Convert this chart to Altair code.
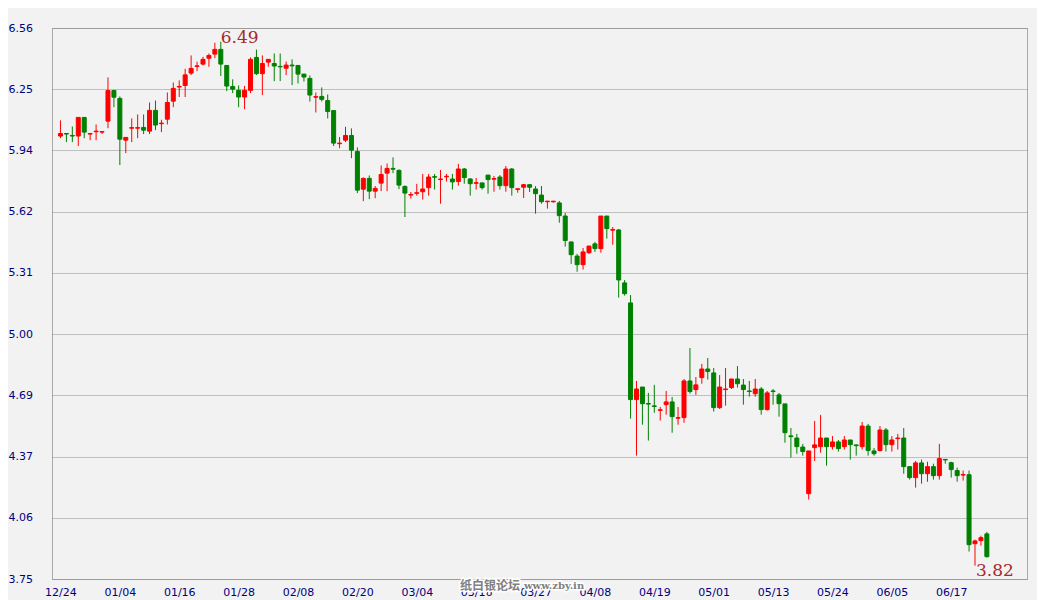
import altair as alt
import pandas as pd

# ---- data ----
date_labels = ["12/24", "01/04", "01/16", "01/28", "02/08", "02/20", "03/04", "03/16",
               "03/27", "04/08", "04/19", "05/01", "05/13", "05/24", "06/05", "06/17"]

opens = [6.009, 6.022, 6.012, 6.009, 6.104, 6.019, 6.031, 6.029, 6.085, 6.241,
         6.201, 5.988, 6.049, 6.049, 6.053, 6.034, 6.140, 6.072, 6.095, 6.187,
         6.259, 6.267, 6.330, 6.364, 6.376, 6.406, 6.427, 6.451, 6.369, 6.262,
         6.242, 6.208, 6.242, 6.410, 6.327, 6.386, 6.379, 6.364, 6.355, 6.371,
         6.369, 6.325, 6.303, 6.207, 6.211, 6.190, 6.139, 5.970, 5.988, 6.012,
         5.930, 5.738, 5.793, 5.728, 5.769, 5.820, 5.844, 5.834, 5.752, 5.708,
         5.717, 5.725, 5.746, 5.802, 5.787, 5.801, 5.790, 5.777, 5.841, 5.790,
         5.768, 5.770, 5.810, 5.789, 5.800, 5.756, 5.841, 5.737, 5.748, 5.761,
         5.739, 5.708, 5.674, 5.674, 5.668, 5.601, 5.469, 5.397, 5.353, 5.414,
         5.459, 5.435, 5.601, 5.529, 5.530, 5.260, 5.158, 4.665, 4.729, 4.645,
         4.633, 4.610, 4.639, 4.653, 4.570, 4.573, 4.760, 4.716, 4.777, 4.821,
         4.801, 4.624, 4.716, 4.726, 4.770, 4.739, 4.709, 4.695, 4.719, 4.614,
         4.709, 4.689, 4.643, 4.480, 4.469, 4.423, 4.185, 4.420, 4.425, 4.469,
         4.425, 4.449, 4.425, 4.459, 4.434, 4.425, 4.530, 4.403, 4.405, 4.510,
         4.435, 4.466, 4.469, 4.323, 4.267, 4.342, 4.287, 4.323, 4.277, 4.360,
         4.343, 4.303, 4.280, 4.282, 3.930, 3.946, 3.980]

highs = [6.089, 6.022, 6.058, 6.104, 6.104, 6.022, 6.068, 6.032, 6.308, 6.245,
         6.211, 6.002, 6.099, 6.119, 6.119, 6.180, 6.190, 6.092, 6.231, 6.282,
         6.293, 6.352, 6.420, 6.388, 6.413, 6.430, 6.485, 6.490, 6.369, 6.298,
         6.267, 6.265, 6.410, 6.450, 6.420, 6.400, 6.430, 6.430, 6.389, 6.400,
         6.369, 6.325, 6.318, 6.231, 6.257, 6.221, 6.139, 6.004, 6.056, 6.048,
         5.951, 5.798, 5.808, 5.754, 5.859, 5.869, 5.900, 5.839, 5.757, 5.724,
         5.765, 5.816, 5.816, 5.816, 5.836, 5.816, 5.816, 5.867, 5.846, 5.795,
         5.795, 5.770, 5.810, 5.805, 5.810, 5.856, 5.846, 5.740, 5.765, 5.761,
         5.754, 5.754, 5.677, 5.677, 5.678, 5.617, 5.469, 5.408, 5.438, 5.448,
         5.469, 5.601, 5.601, 5.545, 5.535, 5.275, 5.198, 4.760, 4.729, 4.699,
         4.740, 4.627, 4.709, 4.678, 4.627, 4.770, 4.928, 4.780, 4.847, 4.877,
         4.826, 4.790, 4.826, 4.770, 4.836, 4.770, 4.760, 4.770, 4.729, 4.709,
         4.719, 4.699, 4.643, 4.520, 4.490, 4.439, 4.403, 4.556, 4.587, 4.469,
         4.479, 4.459, 4.479, 4.459, 4.434, 4.551, 4.541, 4.418, 4.530, 4.520,
         4.479, 4.490, 4.520, 4.323, 4.352, 4.359, 4.348, 4.338, 4.439, 4.360,
         4.348, 4.318, 4.303, 4.303, 3.951, 3.971, 3.990]

lows = [5.998, 5.978, 5.978, 5.958, 5.998, 5.988, 5.988, 6.019, 6.049, 6.156,
        5.861, 5.922, 5.978, 5.998, 6.019, 6.019, 6.039, 6.029, 6.068, 6.156,
        6.208, 6.208, 6.320, 6.340, 6.369, 6.362, 6.406, 6.315, 6.238, 6.228,
        6.156, 6.146, 6.228, 6.320, 6.218, 6.362, 6.289, 6.289, 6.320, 6.269,
        6.277, 6.287, 6.185, 6.129, 6.185, 6.099, 5.958, 5.947, 5.978, 5.896,
        5.718, 5.677, 5.687, 5.692, 5.728, 5.728, 5.820, 5.738, 5.596, 5.690,
        5.705, 5.685, 5.705, 5.736, 5.664, 5.777, 5.736, 5.756, 5.766, 5.705,
        5.736, 5.736, 5.715, 5.725, 5.736, 5.725, 5.705, 5.720, 5.693, 5.724,
        5.613, 5.664, 5.639, 5.669, 5.567, 5.445, 5.357, 5.317, 5.328, 5.408,
        5.418, 5.414, 5.486, 5.455, 5.185, 5.195, 4.568, 4.379, 4.537, 4.456,
        4.598, 4.558, 4.588, 4.496, 4.537, 4.547, 4.695, 4.689, 4.746, 4.767,
        4.604, 4.617, 4.634, 4.719, 4.726, 4.639, 4.680, 4.680, 4.588, 4.609,
        4.639, 4.578, 4.445, 4.369, 4.389, 4.379, 4.155, 4.352, 4.394, 4.328,
        4.410, 4.400, 4.410, 4.359, 4.379, 4.410, 4.379, 4.379, 4.400, 4.400,
        4.400, 4.410, 4.287, 4.257, 4.216, 4.236, 4.246, 4.257, 4.257, 4.338,
        4.267, 4.246, 4.252, 3.890, 3.818, 3.920, 3.859]

closes = [6.022, 6.019, 6.009, 6.104, 6.029, 6.022, 6.034, 6.032, 6.241, 6.207,
          5.993, 6.002, 6.052, 6.052, 6.039, 6.140, 6.065, 6.075, 6.180, 6.252,
          6.262, 6.321, 6.354, 6.367, 6.400, 6.420, 6.451, 6.376, 6.264, 6.248,
          6.208, 6.242, 6.400, 6.327, 6.379, 6.400, 6.366, 6.362, 6.371, 6.367,
          6.325, 6.310, 6.218, 6.210, 6.196, 6.134, 5.973, 5.973, 6.012, 5.937,
          5.733, 5.793, 5.728, 5.742, 5.813, 5.844, 5.840, 5.759, 5.718, 5.711,
          5.720, 5.739, 5.800, 5.799, 5.790, 5.804, 5.775, 5.841, 5.797, 5.766,
          5.771, 5.746, 5.787, 5.792, 5.756, 5.841, 5.746, 5.740, 5.761, 5.748,
          5.715, 5.674, 5.677, 5.677, 5.603, 5.476, 5.404, 5.353, 5.418, 5.448,
          5.435, 5.601, 5.537, 5.532, 5.275, 5.205, 4.665, 4.719, 4.644, 4.642,
          4.630, 4.613, 4.653, 4.578, 4.573, 4.760, 4.706, 4.740, 4.821, 4.808,
          4.624, 4.729, 4.719, 4.770, 4.746, 4.716, 4.706, 4.719, 4.614, 4.699,
          4.706, 4.644, 4.496, 4.476, 4.425, 4.400, 4.403, 4.434, 4.469, 4.425,
          4.449, 4.415, 4.459, 4.435, 4.430, 4.530, 4.405, 4.389, 4.510, 4.435,
          4.459, 4.469, 4.323, 4.267, 4.342, 4.287, 4.323, 4.277, 4.364, 4.357,
          4.308, 4.277, 4.283, 3.925, 3.944, 3.961, 3.864]

y_min, y_max = 3.75, 6.56
y_ticks = [round(y_min + k * (y_max - y_min) / 9, 4) for k in range(10)]

watermark_cn = "纸白银论坛"
watermark_url = "www.zby.in"

# ---- frames ----
df = pd.DataFrame({"i": list(range(len(opens))), "open": opens, "high": highs,
                   "low": lows, "close": closes})
df["dir"] = ["up" if c >= o else "down" for o, c in zip(opens, closes)]

imax = int(df["high"].idxmax())
imin = int(df["low"].idxmin())
max_df = pd.DataFrame({"i": [imax], "v": [highs[imax]], "t": [f"{highs[imax]:.2f}"]})
min_df = pd.DataFrame({"i": [imin], "v": [lows[imin]], "t": [f"{lows[imin]:.2f}"]})

NAVY = "#000080"
FONT = "DejaVu Sans"

label_expr = "[" + ",".join(f"'{d}'" for d in date_labels) + "][round(datum.value/10)]"

x_scale = alt.Scale(domain=[-0.5833, 161.9167], nice=False, zero=False)
y_scale = alt.Scale(domain=[y_min, y_max], nice=False, zero=False)

x_enc = alt.X("i:Q", scale=x_scale,
              axis=alt.Axis(values=list(range(0, 151, 10)), labelExpr=label_expr,
                            title=None, grid=False, ticks=False, tickSize=0,
                            domain=False, labelColor=NAVY, labelFont=FONT,
                            labelFontSize=11, labelPadding=7, labelFlush=False,
                            labelOverlap=False))
y_axis = alt.Axis(values=y_ticks, format=".2f", title=None, ticks=False, tickSize=0,
                  domain=False, grid=True, gridColor="#8c8c8c", gridDash=[1, 1],
                  gridWidth=1, labelAlign="left", labelBaseline="middle",
                  labelPadding=44, labelColor=NAVY, labelFont=FONT,
                  labelFontSize=11)

color = alt.Color("dir:N", scale=alt.Scale(domain=["up", "down"],
                                           range=["#FF0000", "#008000"]),
                  legend=None)

base = alt.Chart(df)

wicks = base.mark_rule(strokeWidth=1).encode(
    x=x_enc,
    y=alt.Y("low:Q", scale=y_scale, axis=y_axis),
    y2="high:Q",
    color=color,
)

bodies = base.mark_bar(size=4, strokeWidth=1).encode(
    x=alt.X("i:Q", scale=x_scale),
    y=alt.Y("open:Q", scale=y_scale),
    y2="close:Q",
    color=color,
    stroke=color,
)

ann_style = dict(align="left", font="DejaVu Serif", fontSize=17, color="#A52A2A")

max_txt = alt.Chart(max_df).mark_text(baseline="alphabetic", dx=0, dy=1, **ann_style).encode(
    x=alt.X("i:Q", scale=x_scale), y=alt.Y("v:Q", scale=y_scale), text="t:N")

min_txt = alt.Chart(min_df).mark_text(baseline="alphabetic", dx=1, dy=10, **ann_style).encode(
    x=alt.X("i:Q", scale=x_scale), y=alt.Y("v:Q", scale=y_scale), text="t:N")


def wm(text, x, font, size, weight):
    d = pd.DataFrame({"t": [text]})
    halo = alt.Chart(d).mark_text(
        align="left", baseline="middle", font=font, fontSize=size, fontWeight=weight,
        stroke="#FFFFFF", strokeWidth=3, color="#FFFFFF"
    ).encode(x=alt.value(x), y=alt.value(558), text="t:N")
    fill = alt.Chart(d).mark_text(
        align="left", baseline="middle", font=font, fontSize=size, fontWeight=weight,
        color="#808080"
    ).encode(x=alt.value(x), y=alt.value(558), text="t:N")
    return [halo, fill]


wm_layers = wm(watermark_cn, 408, "Noto Sans CJK SC", 12, "bold") + \
    wm(watermark_url, 472, "DejaVu Serif", 10, "bold")

chart = alt.layer(wicks, bodies, max_txt, min_txt, *wm_layers).properties(
    width=975, height=551,
    autosize="none",
    padding={"left": 44, "top": 20, "right": 10, "bottom": 25},
    background="#F2F2F2",
).configure_view(stroke="#AAAAAA", strokeWidth=1, fill="#F2F2F2")

chart.save("out.html", embed_options={"renderer": "svg", "actions": False})
